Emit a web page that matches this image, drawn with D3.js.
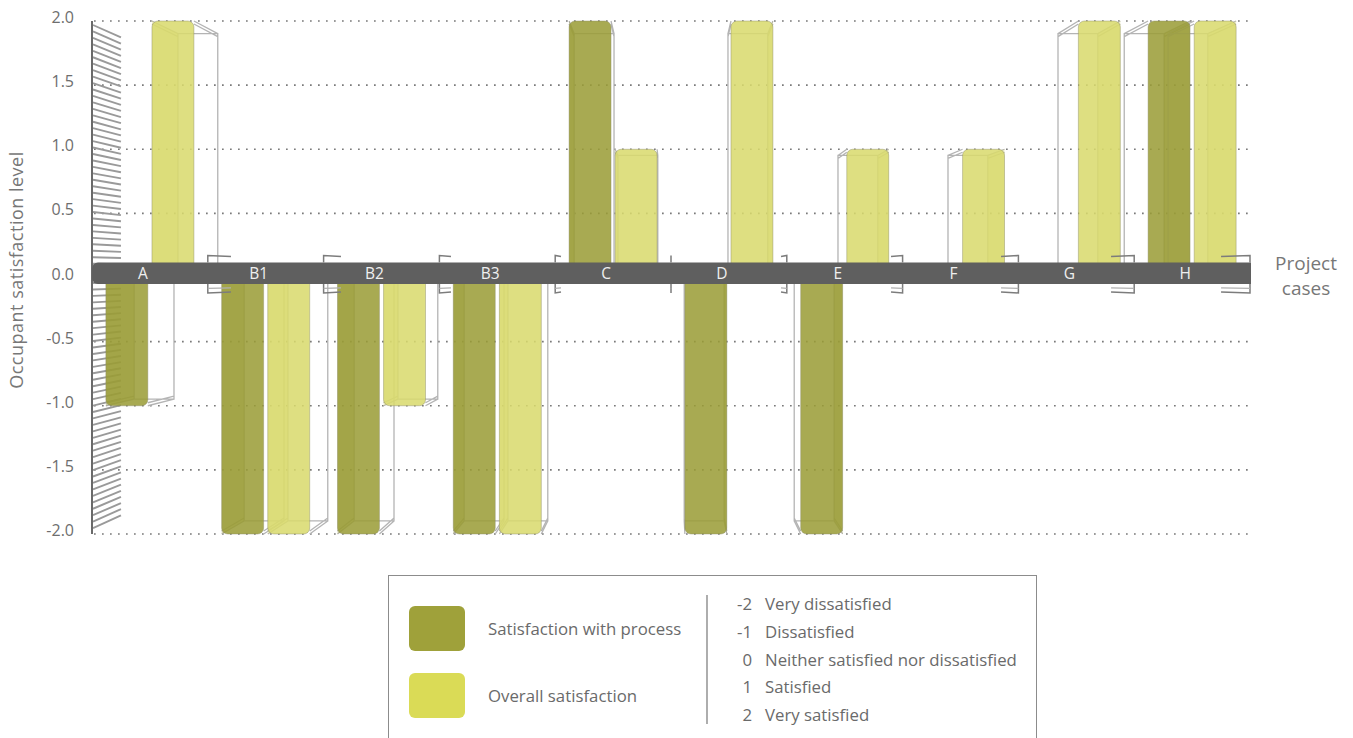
<!DOCTYPE html>
<html>
<head>
<meta charset="utf-8">
<script src="https://cdn.jsdelivr.net/npm/d3@7"></script>
<style>
  html, body { margin: 0; padding: 0; background: #fff; }
  svg { display: block; font-family: "Open Sans", "Lato", sans-serif; }
</style>
</head>
<body>
<svg id="chart" width="1353" height="738"></svg>
<script>
// Project cases and the two satisfaction scores (scale -2 .. 2)
const categories = ["A", "B1", "B2", "B3", "C", "D", "E", "F", "G", "H"];
const processValues = [-1, -2, -2, -2, 2, -2, -2, 0, 0, 2];
const overallValues = [2, -2, -1, -2, 1, 2, 1, 1, 2, 2];
const yTicks = [2, 1.5, 1, 0.5, 0, -0.5, -1, -1.5, -2];
const seriesKeys = ["process", "overall"];
const seriesNames = ["Satisfaction with process", "Overall satisfaction"];
const scaleCodes = ["-2", "-1", "0", "1", "2"];
const scaleLabels = ["Very dissatisfied", "Dissatisfied", "Neither satisfied nor dissatisfied", "Satisfied", "Very satisfied"];

const colors = { process: "#9a9c36", overall: "#d9da6c" };
const swatchColors = { process: "#9fa13a", overall: "#dadb56" };

const svg = d3.select("#chart");
const plotL = 92, plotR = 1250, plotT = 21, plotB = 534;

const x0 = d3.scaleBand().domain(categories).range([plotL, plotR]).padding(0);
const x1 = d3.scaleBand().domain(seriesKeys)
  .range([x0.bandwidth() * 0.12, x0.bandwidth() * 0.88]).paddingInner(0.09);
const y = d3.scaleLinear().domain([-2, 2]).range([plotB, plotT]);

// perspective: back plane is the front plane shrunk toward the centre of the band
const bandH = 21.5;
const bandMid = y(0) - 4.3;
const vp = { x: (plotL + plotR) / 2, y: bandMid };
const K = 0.95;
const proj = (px, py) => [vp.x + (px - vp.x) * K, vp.y + (py - vp.y) * K];

// dotted grid
svg.append("g").selectAll("line").data(yTicks.filter(d => d !== 0)).join("line")
  .attr("x1", plotL + 2).attr("x2", plotR - 2)
  .attr("y1", d => y(d)).attr("y2", d => y(d))
  .attr("stroke", "#7a7a7a").attr("stroke-width", 1.7)
  .attr("stroke-dasharray", "1.7 6.3");

// hatched side wall along the value axis
const wall = svg.append("g");
const backLeft = proj(plotL, 0)[0];
wall.selectAll("line").data(d3.range(y(2) + 4, y(-2) - 2, 6.45)).join("line")
  .attr("x1", plotL + 1).attr("y1", d => d)
  .attr("x2", backLeft).attr("y2", d => proj(plotL, d)[1])
  .attr("stroke", "#9a9a9a").attr("stroke-width", 1.9);
wall.append("line")
  .attr("x1", plotL).attr("x2", plotL).attr("y1", y(2)).attr("y2", y(-2))
  .attr("stroke", "#6a6a6a").attr("stroke-width", 2);

// bar records
const bars = [];
categories.forEach((c, i) => {
  const vals = { process: processValues[i], overall: overallValues[i] };
  seriesKeys.forEach(k => {
    if (vals[k] === 0) return;
    const xL = x0(c) + x1(k), xR = xL + x1.bandwidth();
    bars.push({ c, k, v: vals[k], xL, xR, y0: y(0), y1: y(vals[k]) });
  });
});

// back faces and depth edges
const backG = svg.append("g");
bars.forEach(b => {
  const F = [[b.xL, b.y0], [b.xR, b.y0], [b.xR, b.y1], [b.xL, b.y1]];
  const B = F.map(p => proj(p[0], p[1]));
  const p = d3.path();
  p.moveTo(...B[0]); B.slice(1).forEach(q => p.lineTo(...q)); p.closePath();
  F.forEach((f, i) => { p.moveTo(...f); p.lineTo(...B[i]); });
  // second edge on the value end for the bevelled rim
  const off = b.v > 0 ? 3 : -3;
  p.moveTo(F[2][0], F[2][1] + off); p.lineTo(B[2][0], B[2][1] + off);
  p.moveTo(F[3][0], F[3][1] + off); p.lineTo(B[3][0], B[3][1] + off);
  backG.append("path").attr("d", p.toString())
    .attr("fill", "none").attr("stroke", "#b4b4b4").attr("stroke-width", 1.3);
  // inner side face seen through the front face
  const leftSide = (b.xL + b.xR) / 2 < vp.x;
  const a = leftSide ? [F[0], F[3], B[3], B[0]] : [F[1], F[2], B[2], B[1]];
  backG.append("path").attr("d", "M" + a.map(q => q.join(",")).join("L") + "Z")
    .attr("fill", colors[b.k]).attr("fill-opacity", 0.35);
});

// front faces
svg.append("g").selectAll("rect").data(bars).join("rect")
  .attr("x", d => d.xL).attr("width", d => d.xR - d.xL)
  .attr("y", d => Math.min(d.y0, d.y1)).attr("height", d => Math.abs(d.y1 - d.y0))
  .attr("rx", 6)
  .attr("fill", d => colors[d.k]).attr("fill-opacity", 0.86)
  .attr("stroke", "#8f8f6a").attr("stroke-opacity", 0.45).attr("stroke-width", 1);

// category band along zero
const bT = bandMid - bandH / 2, bB = bandMid + bandH / 2, r = 6;
svg.append("path")
  .attr("d", `M${plotL + r},${bT}H${plotR + 1}V${bB}H${plotL + r}A${r},${r} 0 0 1 ${plotL},${bB - r}V${bT + r}A${r},${r} 0 0 1 ${plotL + r},${bT}Z`)
  .attr("fill", "#5f5f5f");

// depth brackets at category boundaries
const brk = svg.append("g").attr("fill", "none").attr("stroke", "#7c7c7c").attr("stroke-width", 1.5);
categories.forEach((c, i) => {
  const bx = x0(c) + x0.bandwidth();
  const [backX] = proj(bx, 0);
  brk.append("path").attr("d", `M${bx},${bT}V${bT - 7}L${backX},${bT - 6}`);
  brk.append("path").attr("d", `M${bx},${bB}V${bB + 9}L${backX},${bB + 8}`);
  brk.append("path").attr("stroke", "#b0b0b0").attr("stroke-width", 1.2)
    .attr("d", `M${bx},${bB + 4.5}L${backX},${bB + 4}`);
});

svg.append("g").selectAll("text").data(categories).join("text")
  .attr("x", d => x0(d) + x0.bandwidth() / 2 - 7)
  .attr("y", bandMid + 5.5)
  .attr("text-anchor", "middle")
  .attr("fill", "#efefef").attr("font-size", 15.5)
  .text(d => d);

// value axis labels
const yAxis = svg.append("g").attr("transform", `translate(${plotL},0)`)
  .call(d3.axisLeft(y).tickValues(yTicks).tickSize(0).tickPadding(18)
    .tickFormat(d => d.toFixed(1)));
yAxis.select(".domain").remove();
yAxis.selectAll("text").attr("fill", "#6e6e6e").attr("font-size", 16)
  .attr("font-family", "Open Sans, sans-serif").attr("dy", 1.5);

svg.append("text")
  .attr("transform", `translate(23,${270}) rotate(-90)`)
  .attr("text-anchor", "middle").attr("fill", "#777").attr("font-size", 18)
  .attr("letter-spacing", 0.5)
  .text("Occupant satisfaction level");

const pc = svg.append("text").attr("fill", "#777").attr("font-size", 19)
  .attr("text-anchor", "middle");
pc.append("tspan").attr("x", 1306).attr("y", 270).text("Project");
pc.append("tspan").attr("x", 1306).attr("y", 295).text("cases");

// legend
const lg = svg.append("g");
lg.append("rect").attr("x", 388.5).attr("y", 575.5).attr("width", 648).attr("height", 200)
  .attr("fill", "#fff").attr("stroke", "#8c8c8c").attr("stroke-width", 1);
seriesKeys.forEach((k, i) => {
  const sy = 606 + i * 67;
  lg.append("rect").attr("x", 409).attr("y", sy).attr("width", 56).attr("height", 45)
    .attr("rx", 6).attr("fill", swatchColors[k]);
  lg.append("text").attr("x", 488).attr("y", sy + 29)
    .attr("fill", "#6a6a6a").attr("font-size", 16.8).text(seriesNames[i]);
});
lg.append("line").attr("x1", 707).attr("x2", 707).attr("y1", 595).attr("y2", 724)
  .attr("stroke", "#777").attr("stroke-width", 1.2);
scaleCodes.forEach((code, i) => {
  const ty = 610 + i * 27.8;
  lg.append("text").attr("x", 752).attr("y", ty).attr("text-anchor", "end")
    .attr("fill", "#6a6a6a").attr("font-size", 16.8).text(code);
  lg.append("text").attr("x", 765).attr("y", ty)
    .attr("fill", "#6a6a6a").attr("font-size", 16.8).text(scaleLabels[i]);
});
</script>
</body>
</html>
